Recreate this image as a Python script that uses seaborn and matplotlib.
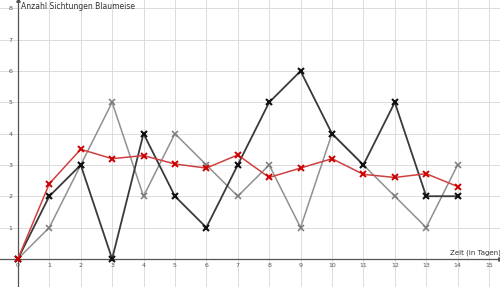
import matplotlib
matplotlib.use("Agg")
import matplotlib.pyplot as plt
import seaborn as sns
import pandas as pd

days = list(range(15))
black_counts = [0, 2, 3, 0, 4, 2, 1, 3, 5, 6, 4, 3, 5, 2, 2]
gray_counts = [0, 1, 3, 5, 2, 4, 3, 2, 3, 1, 4, 3, 2, 1, 3]
red_counts = [0, 2.4, 3.5, 3.2, 3.3, 3.03, 2.9, 3.32, 2.6, 2.9, 3.2, 2.7, 2.6, 2.72, 2.31]
x_ticks = list(range(16))
y_ticks = list(range(1, 9))
y_label = "Anzahl Sichtungen Blaumeise"
x_label = "Zeit (in Tagen)"

sns.set_style("white")
plt.rcParams['font.family'] = ['DejaVu Sans']

fig = plt.figure(figsize=(5, 2.87), dpi=100)
ax = fig.add_axes([0, 0, 1, 1])

df = pd.DataFrame({"day": days, "black": black_counts, "gray": gray_counts, "red": red_counts})

sns.lineplot(data=df, x="day", y="gray", ax=ax, color="#909090", lw=1.1,
             marker="x", markersize=5, markeredgewidth=1.1, markeredgecolor="#7a7a7a", zorder=3)
sns.lineplot(data=df, x="day", y="black", ax=ax, color="#3a3a3a", lw=1.3,
             marker="x", markersize=5, markeredgewidth=1.5, markeredgecolor="#111111", zorder=4)
sns.lineplot(data=df, x="day", y="red", ax=ax, color="#d04040", lw=1.1,
             marker="x", markersize=5, markeredgewidth=1.4, markeredgecolor="#cc0000", zorder=5)

ax.set_xlim(-0.57, 15.35)
ax.set_ylim(-0.9, 8.27)
ax.set_xticks(x_ticks)
ax.set_yticks(y_ticks)
ax.set_xticklabels([str(t) for t in x_ticks])
ax.set_yticklabels([str(t) for t in y_ticks])
ax.grid(True, color="#dcdcdc", lw=0.7)
ax.set_axisbelow(True)
ax.set_xlabel("")
ax.set_ylabel("")

for s in ["top", "right"]:
    ax.spines[s].set_visible(False)
ax.spines["left"].set_position(("data", 0))
ax.spines["bottom"].set_position(("data", 0))
for s in ["left", "bottom"]:
    ax.spines[s].set_color("#555555")
    ax.spines[s].set_linewidth(0.9)
ax.tick_params(axis="both", length=0, labelsize=4.5, labelcolor="#555555", pad=3)
ax.tick_params(axis="y", pad=4)

# arrow heads
ax.plot(1, 0, ">", transform=ax.get_yaxis_transform(), color="#555555", ms=2.5, clip_on=False)
ax.plot(0, 1, "^", transform=ax.get_xaxis_transform(), color="#555555", ms=2.5, clip_on=False)

ax.text(0.1, 8.22, y_label, fontsize=5.5, color="#333333", ha="left", va="top")
ax.text(13.75, 0.08, x_label, fontsize=5, color="#333333", ha="left", va="bottom")

fig.savefig("out.png", dpi=100)
